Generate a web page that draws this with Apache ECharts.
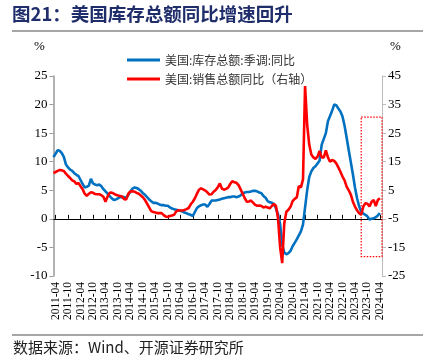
<!DOCTYPE html>
<html>
<head>
<meta charset="utf-8">
<script src="https://cdn.jsdelivr.net/npm/echarts@6/dist/echarts.min.js"></script>
<style>
html,body{margin:0;padding:0;background:#fff;}
#chart{width:431px;height:364px;}
</style>
</head>
<body>
<div id="chart"></div>
<script>
// Monthly categories 2011-03 .. 2024-05
var startYear = 2011, startMonth = 3, monthCount = 159;
var categories = [];
for (var k = 0; k < monthCount; k++) {
  var m = startMonth - 1 + k;
  var y = startYear + Math.floor(m / 12);
  var mm = (m % 12) + 1;
  categories.push(y + '-' + (mm < 10 ? '0' + mm : mm));
}

// 美国:库存总额:季调:同比 (left axis, %)
var inventoryYoY = [
  10.8, 11.4, 12.0, 11.9, 11.5, 10.8, 9.5, 9.0, 8.6, 8.4,
  8.0, 7.7, 7.5, 6.8, 6.1, 5.5, 5.6, 5.8, 7.0, 6.2,
  6.0, 5.9, 6.0, 5.7, 5.2, 4.8, 4.4, 4.0, 3.6, 3.3,
  3.4, 3.6, 3.8, 3.8, 3.8, 3.7, 4.2, 4.8, 5.3, 5.5,
  5.4, 5.2, 4.9, 4.5, 4.2, 3.8, 3.4, 3.1, 2.8, 2.8,
  2.7, 2.5, 2.4, 2.4, 2.3, 2.3, 2.0, 1.8, 1.7, 1.6,
  1.5, 1.4, 1.3, 1.1, 1.0, 0.8, 0.7, 0.5, 1.2, 1.9,
  2.2, 2.4, 2.5, 2.5, 2.1, 2.6, 3.2, 3.2, 3.2, 3.3,
  3.4, 3.5, 3.6, 3.7, 3.8, 3.8, 3.9, 3.9, 3.8, 3.9,
  4.1, 4.5, 4.6, 4.7, 4.7, 4.8, 4.9, 4.9, 4.8, 4.6,
  4.5, 4.0, 3.7, 3.1, 2.9, 2.8, 2.6, 1.8, 0.8, -0.9,
  -4.5, -5.9, -6.2, -6.0, -5.6, -4.8, -4.2, -3.6, -2.9, -2.2,
  -1.0, 2.0, 5.0, 7.3, 8.3, 8.9, 9.2, 9.7, 10.2, 13.0,
  14.0, 15.0, 17.1, 18.0, 18.9, 20.0, 19.9, 19.3, 18.8, 17.9,
  16.3, 14.2, 12.0, 9.9, 7.8, 5.5, 3.6, 2.2, 1.3, 0.9,
  0.7, 0.4, -0.1, 0.0, 0.1, 0.3, 0.6, 1.0, null
];

// 美国:销售总额同比 (right axis, %)
var salesYoY = [
  11.0, 11.4, 11.8, 12.1, 12.0, 11.7, 10.8, 10.0, 9.3, 8.5,
  8.1, 7.2, 7.6, 6.4, 5.4, 3.8, 3.0, 3.8, 4.3, 4.1,
  3.7, 3.6, 3.6, 3.3, 2.7, 1.0, 2.8, 4.1, 4.2, 3.8,
  3.4, 3.2, 3.0, 2.8, 1.9, 1.8, 3.8, 4.6, 4.7, 4.5,
  4.1, 3.8, 3.2, 2.6, 1.6, 0.3, -1.0, -2.3, -2.6, -2.8,
  -3.0, -3.0, -3.0, -3.7, -4.2, -4.3, -4.0, -3.8, -3.6, -2.4,
  -2.0, -2.1, -2.1, -1.9, -1.6, -1.2, 0.1, 1.0, 2.2, 3.8,
  5.2, 5.7, 5.3, 4.9, 4.3, 3.5, 3.6, 4.5, 5.1, 6.0,
  7.4, 5.6, 5.2, 5.5, 5.9, 7.2, 8.2, 7.8, 7.6, 6.8,
  5.3, 3.8, 2.2, 1.0, 1.1, 1.4, 0.7, -0.1, -0.4, -0.3,
  -0.5, -1.0, -0.8, -1.0, -1.3, -0.5, 0.2, -0.5, -4.8, -15.0,
  -20.5, -6.5, -2.5, -1.8, -0.8, 1.2, 2.0, 2.5, 6.5, 6.0,
  8.8, 41.5, 28.0, 21.0, 17.5, 16.5, 16.0, 16.8, 18.8, 16.5,
  16.5, 19.0, 16.5, 15.0, 15.6, 15.3, 14.4, 13.0, 11.5, 9.8,
  8.5, 6.3, 5.0, 3.5, 1.0, -0.7, -2.0, -3.0, -3.5, -0.7,
  0.5, 0.3, -0.7, 1.0, 1.6, -0.5, 1.6, 2.2, null
];

var leftTicks = { min: -10, max: 25, interval: 5 };
var rightTicks = { min: -25, max: 45, interval: 10 };
var highlightBox = { from: '2023-07', to: '2024-05', top: 17.8, bottom: -6.6 };

var seriesNames = ['美国:库存总额:季调:同比', '美国:销售总额同比（右轴）'];
var titleText = '图21：美国库存总额同比增速回升';
var sourceText = '数据来源：Wind、开源证券研究所';

function isHalfYearTick(idx) {
  var c = categories[idx];
  if (!c) return false;
  var mo = c.slice(5);
  return mo === '04' || mo === '10';
}

var serif = '"Liberation Serif", "Times New Roman", serif';
var cjk = '"Noto Sans CJK SC", sans-serif';

var chart = echarts.init(document.getElementById('chart'), null, { renderer: 'canvas' });
chart.setOption({
  animation: false,
  backgroundColor: '#ffffff',
  grid: { left: 53.5, right: 49, top: 76, bottom: 88, containLabel: false },
  legend: {
    orient: 'vertical',
    left: 122, top: 49,
    itemWidth: 33, itemHeight: 3, itemGap: 7,
    icon: 'rect',
    textStyle: { fontSize: 12, color: '#333', fontFamily: cjk },
    data: seriesNames
  },
  xAxis: [
    {
      type: 'category', data: categories, boundaryGap: false, position: 'bottom',
      axisLine: { show: false, onZero: false },
      axisTick: { show: false },
      axisLabel: {
        interval: function (idx) { return isHalfYearTick(idx); },
        rotate: 90, margin: 6, fontSize: 11.5, color: '#000', fontFamily: serif
      },
      splitLine: { show: false }
    },
    {
      type: 'category', data: categories, boundaryGap: false, position: 'bottom',
      axisLine: { show: true, onZero: true, onZeroAxisIndex: 0, lineStyle: { color: '#000', width: 1 } },
      axisTick: { show: true, inside: true, length: 4, interval: function (idx) { return isHalfYearTick(idx); }, lineStyle: { color: '#000' } },
      axisLabel: { show: false },
      splitLine: { show: false }
    }
  ],
  yAxis: [
    {
      type: 'value', min: leftTicks.min, max: leftTicks.max, interval: leftTicks.interval, position: 'left',
      axisLine: { show: true, lineStyle: { color: '#999', width: 1.5 } },
      axisTick: { show: true, length: 4, lineStyle: { color: '#999' } },
      axisLabel: { fontSize: 13, color: '#000', fontFamily: serif, margin: 6 },
      splitLine: { show: false }
    },
    {
      type: 'value', min: rightTicks.min, max: rightTicks.max, interval: rightTicks.interval, position: 'right',
      axisLine: { show: true, lineStyle: { color: '#bbb', width: 1 } },
      axisTick: { show: true, length: 4, lineStyle: { color: '#bbb' } },
      axisLabel: { fontSize: 13, color: '#000', fontFamily: serif, margin: 6 },
      splitLine: { show: false }
    }
  ],
  series: [
    {
      name: seriesNames[0], type: 'line', xAxisIndex: 0, yAxisIndex: 0,
      data: inventoryYoY, showSymbol: false, symbol: 'none',
      lineStyle: { color: '#0070c0', width: 2.6 }, itemStyle: { color: '#0070c0' },
      z: 3,
      markArea: {
        silent: true,
        itemStyle: { color: 'rgba(0,0,0,0)', borderColor: '#ff0000', borderWidth: 1.2, borderType: [1.5, 1.5] },
        label: { show: false },
        data: [[{ xAxis: highlightBox.from, yAxis: highlightBox.top }, { xAxis: highlightBox.to, yAxis: highlightBox.bottom }]]
      }
    },
    {
      name: seriesNames[1], type: 'line', xAxisIndex: 0, yAxisIndex: 1,
      data: salesYoY, showSymbol: false, symbol: 'none',
      lineStyle: { color: '#ff0000', width: 2.6 }, itemStyle: { color: '#ff0000' },
      z: 4
    }
  ],
  graphic: [
    { type: 'text', left: 12, top: 5, style: { text: titleText, fontSize: 18.5, fontWeight: 'bold', fill: '#1f2d6b', fontFamily: cjk } },
    { type: 'line', shape: { x1: 12, y1: 31, x2: 423, y2: 31 }, style: { stroke: '#888', lineWidth: 1.5 } },
    { type: 'text', left: 34, top: 40, style: { text: '%', fontSize: 13, fill: '#000', fontFamily: serif } },
    { type: 'text', left: 390, top: 40, style: { text: '%', fontSize: 13, fill: '#000', fontFamily: serif } },
    { type: 'line', shape: { x1: 12, y1: 335, x2: 423, y2: 335 }, style: { stroke: '#888', lineWidth: 1.5 } },
    { type: 'text', left: 13, top: 340, style: { text: sourceText, fontSize: 15, fill: '#222', fontFamily: cjk } }
  ]
});
</script>
</body>
</html>
